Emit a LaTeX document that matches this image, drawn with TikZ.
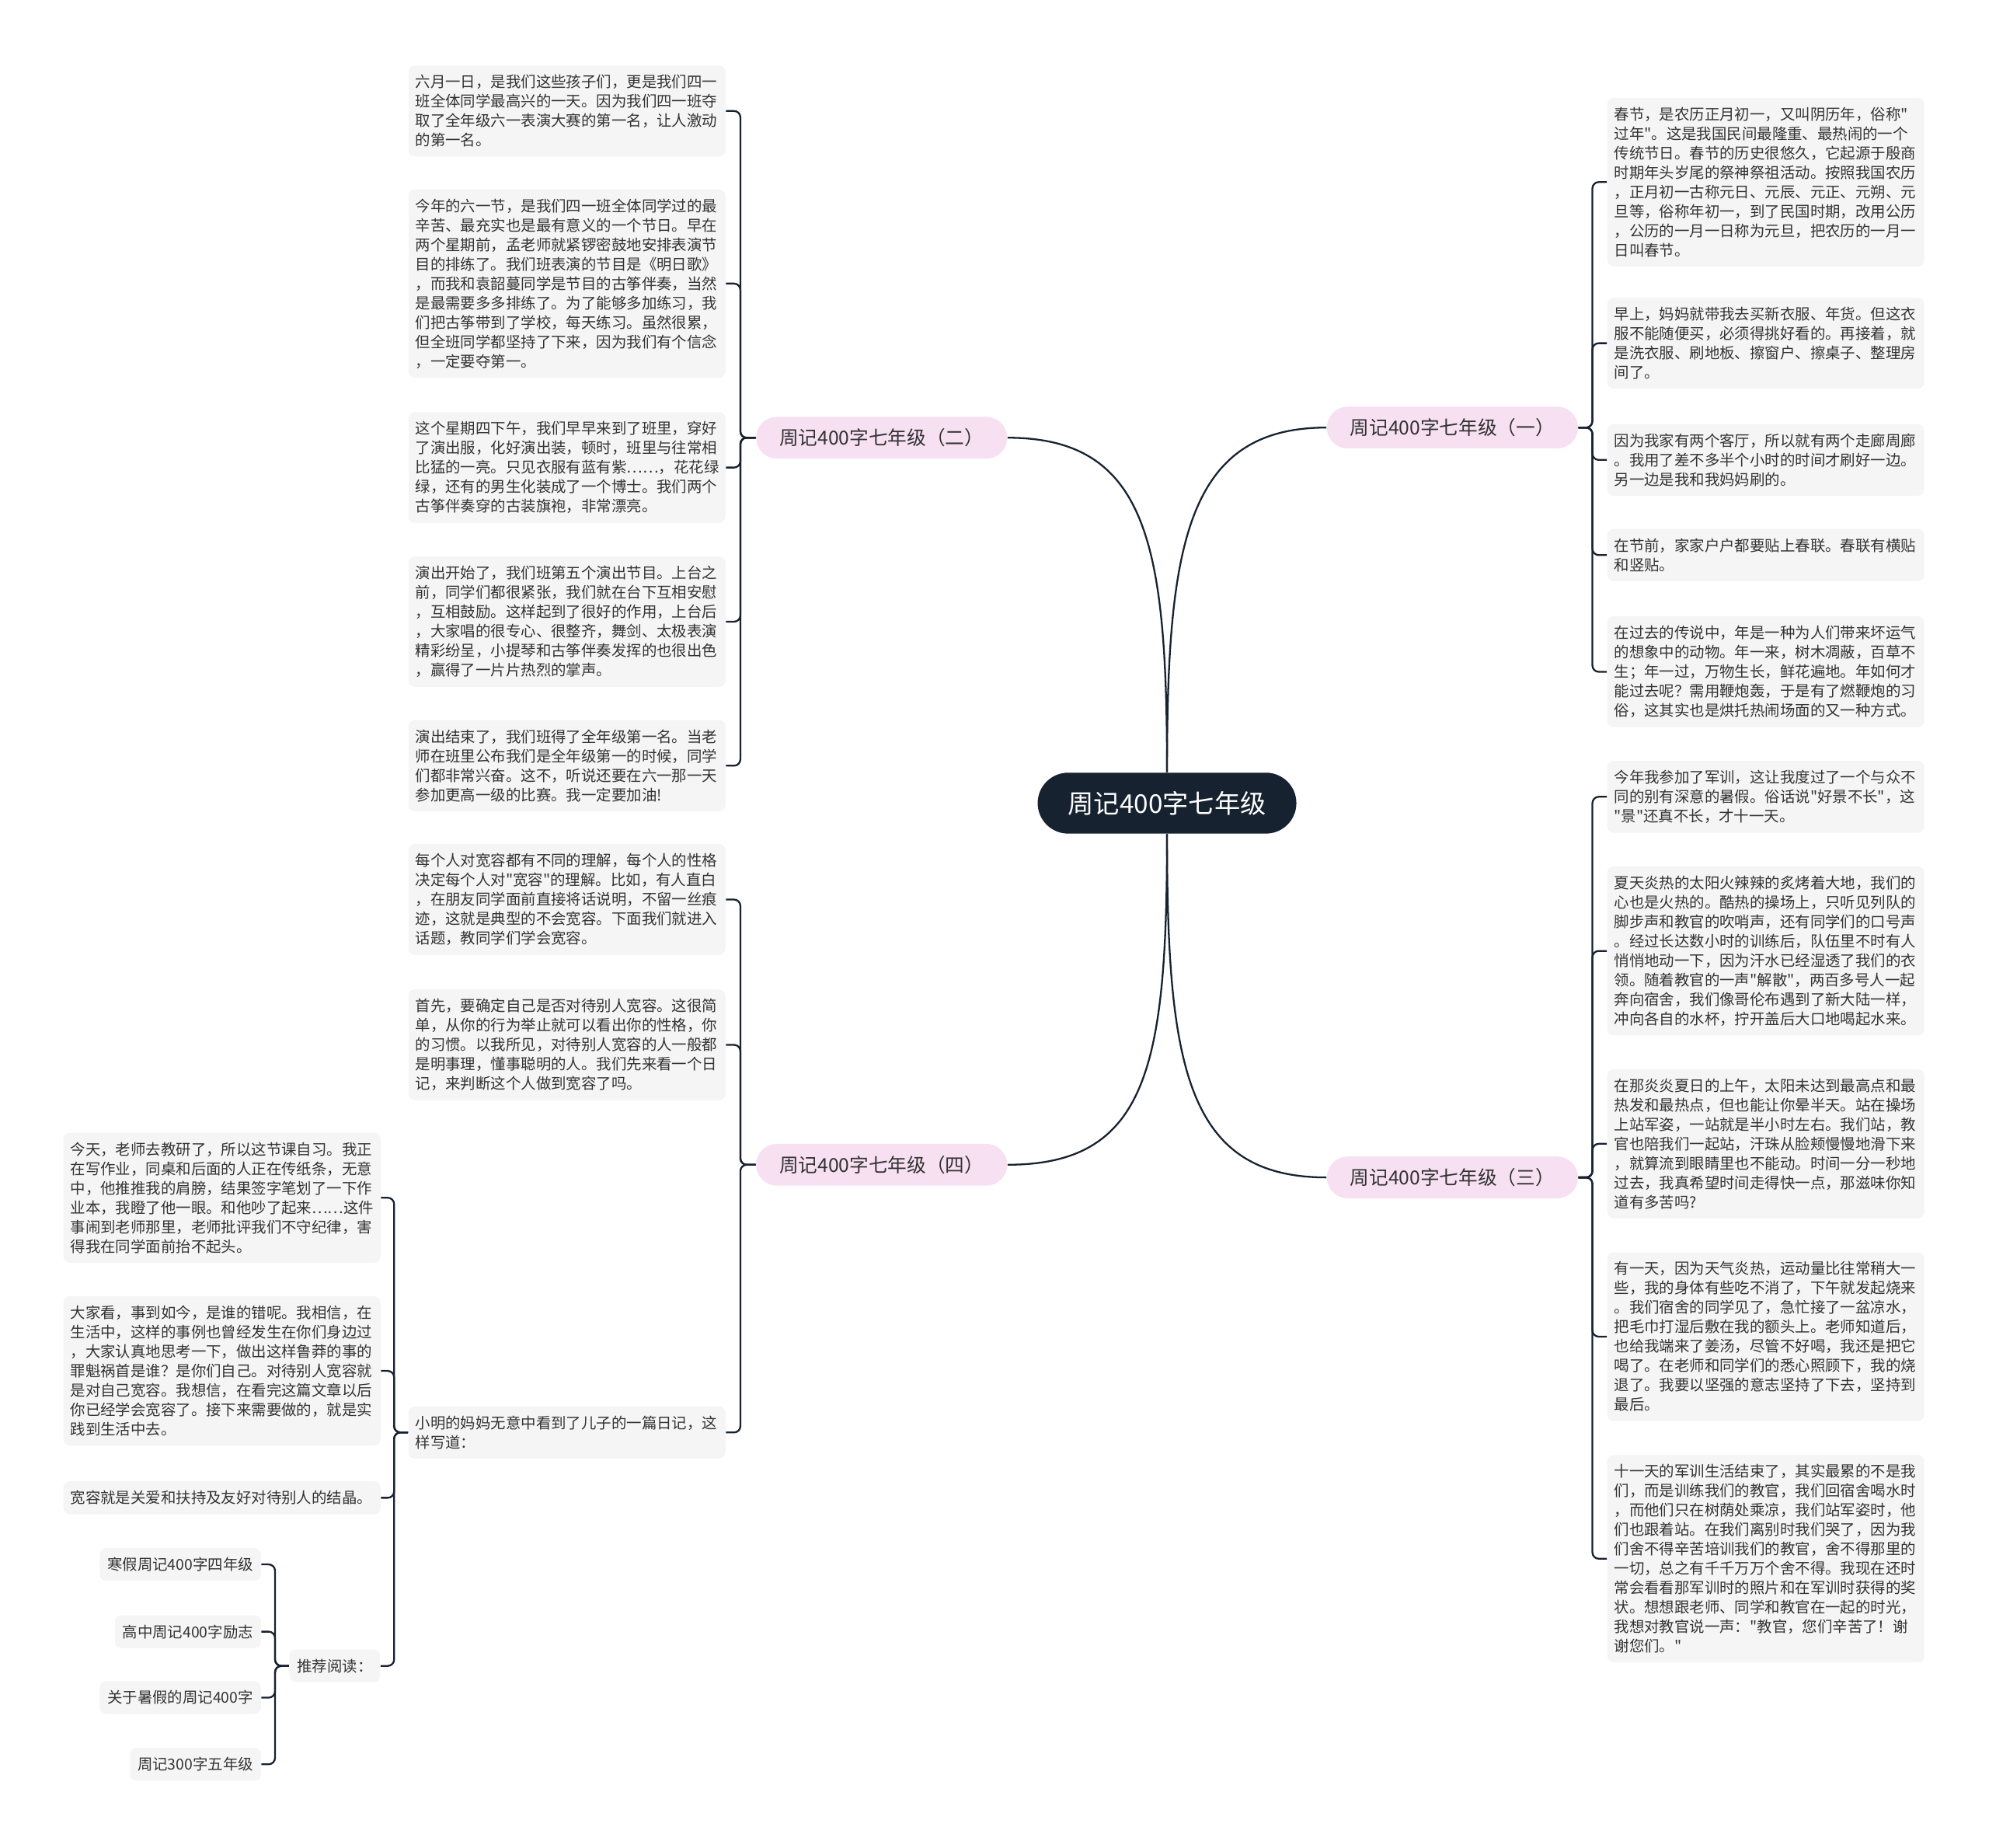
\documentclass[tikz,border=0pt]{standalone}
\usepackage{fontspec}
\setmainfont{Noto Sans CJK SC}[Ligatures=TeXOff]
\usepackage{xcolor}
\definecolor{rootfill}{RGB}{23,34,48}
\definecolor{branchfill}{RGB}{246,224,241}
\definecolor{leaffill}{RGB}{245,245,245}
\definecolor{inkline}{RGB}{23,34,48}
\tikzset{every node/.append style={text=black!80}}

\begin{document}
\begin{tikzpicture}[x=0.02cm, y=-0.02cm,
  leaf/.style={fill=leaffill, rounded corners=0.1cm, align=left, text width=4.78cm,
    inner xsep=0.11cm, inner ysep=4.2pt, font=\fontsize{6.77pt}{8.71pt}\selectfont},
  tip/.style={fill=leaffill, rounded corners=0.1cm, inner xsep=0.12cm, inner ysep=4.2pt,
    font=\fontsize{6.77pt}{8.71pt}\selectfont},
  branch/.style={fill=branchfill, rounded corners=0.33cm, minimum width=3.96cm,
    minimum height=0.66cm, inner sep=0pt, font=\fontsize{8.6pt}{10pt}\selectfont},
  conn/.style={draw=inkline, line width=0.8pt, rounded corners=0.1cm}]
  \useasboundingbox (0,0) rectangle (1568,1456);

  % centre and the four branches
  \node[fill=rootfill, rounded corners=0.48cm, minimum width=4.08cm, minimum height=0.96cm,
    text=white, font=\fontsize{11.6pt}{13pt}\selectfont] (root) at (920,633) {周记400字七年级};
  \node[branch] (b1) at (1145,337) {周记400字七年级（一）};
  \node[branch] (b2) at (695,345) {周记400字七年级（二）};
  \node[branch] (b3) at (1145,928) {周记400字七年级（三）};
  \node[branch] (b4) at (695,918) {周记400字七年级（四）};

  \draw[inkline, line width=0.8pt] (root.north) .. controls (920,430) and (935,337) .. (b1.west);
  \draw[inkline, line width=0.8pt] (root.north) .. controls (920,430) and (905,345) .. (b2.east);
  \draw[inkline, line width=0.8pt] (root.south) .. controls (920,840) and (935,928) .. (b3.west);
  \draw[inkline, line width=0.8pt] (root.south) .. controls (920,840) and (905,918) .. (b4.east);

  % (一)
  \node[leaf] (r1a) at (1392,143.5) {春节，是农历正月初一，又叫阴历年，俗称"\\过年"。这是我国民间最隆重、最热闹的一个\\传统节日。春节的历史很悠久，它起源于殷商\\时期年头岁尾的祭神祭祖活动。按照我国农历\\，正月初一古称元日、元辰、元正、元朔、元\\旦等，俗称年初一，到了民国时期，改用公历\\，公历的一月一日称为元旦，把农历的一月一\\日叫春节。};
  \node[leaf] (r1b) at (1392,270.5) {早上，妈妈就带我去买新衣服、年货。但这衣\\服不能随便买，必须得挑好看的。再接着，就\\是洗衣服、刷地板、擦窗户、擦桌子、整理房\\间了。};
  \node[leaf] (r1c) at (1392,362.5) {因为我家有两个客厅，所以就有两个走廊周廊\\。我用了差不多半个小时的时间才刷好一边。\\另一边是我和我妈妈刷的。};
  \node[leaf] (r1d) at (1392,437.5) {在节前，家家户户都要贴上春联。春联有横贴\\和竖贴。};
  \node[leaf] (r1e) at (1392,529.5) {在过去的传说中，年是一种为人们带来坏运气\\的想象中的动物。年一来，树木凋蔽，百草不\\生；年一过，万物生长，鲜花遍地。年如何才\\能过去呢？需用鞭炮轰，于是有了燃鞭炮的习\\俗，这其实也是烘托热闹场面的又一种方式。};

  % (三)
  \node[leaf] (r3a) at (1392,628) {今年我参加了军训，这让我度过了一个与众不\\同的别有深意的暑假。俗话说"好景不长"，这\\"景"还真不长，才十一天。};
  \node[leaf] (r3b) at (1392,749.5) {夏天炎热的太阳火辣辣的炙烤着大地，我们的\\心也是火热的。酷热的操场上，只听见列队的\\脚步声和教官的吹哨声，还有同学们的口号声\\。经过长达数小时的训练后，队伍里不时有人\\悄悄地动一下，因为汗水已经湿透了我们的衣\\领。随着教官的一声"解散"，两百多号人一起\\奔向宿舍，我们像哥伦布遇到了新大陆一样，\\冲向各自的水杯，拧开盖后大口地喝起水来。};
  \node[leaf] (r3c) at (1392,901.5) {在那炎炎夏日的上午，太阳未达到最高点和最\\热发和最热点，但也能让你晕半天。站在操场\\上站军姿，一站就是半小时左右。我们站，教\\官也陪我们一起站，汗珠从脸颊慢慢地滑下来\\，就算流到眼睛里也不能动。时间一分一秒地\\过去，我真希望时间走得快一点，那滋味你知\\道有多苦吗?};
  \node[leaf] (r3d) at (1392,1053.5) {有一天，因为天气炎热，运动量比往常稍大一\\些，我的身体有些吃不消了，下午就发起烧来\\。我们宿舍的同学见了，急忙接了一盆凉水，\\把毛巾打湿后敷在我的额头上。老师知道后，\\也给我端来了姜汤，尽管不好喝，我还是把它\\喝了。在老师和同学们的悉心照顾下，我的烧\\退了。我要以坚强的意志坚持了下去，坚持到\\最后。};
  \node[leaf] (r3e) at (1392,1228.5) {十一天的军训生活结束了，其实最累的不是我\\们，而是训练我们的教官，我们回宿舍喝水时\\，而他们只在树荫处乘凉，我们站军姿时，他\\们也跟着站。在我们离别时我们哭了，因为我\\们舍不得辛苦培训我们的教官，舍不得那里的\\一切，总之有千千万万个舍不得。我现在还时\\常会看看那军训时的照片和在军训时获得的奖\\状。想想跟老师、同学和教官在一起的时光，\\我想对教官说一声："教官，您们辛苦了！谢\\谢您们。"};

  % (二)
  \node[leaf] (l2a) at (447,87.5) {六月一日，是我们这些孩子们，更是我们四一\\班全体同学最高兴的一天。因为我们四一班夺\\取了全年级六一表演大赛的第一名，让人激动\\的第一名。};
  \node[leaf] (l2b) at (447,223.5) {今年的六一节，是我们四一班全体同学过的最\\辛苦、最充实也是最有意义的一个节日。早在\\两个星期前，孟老师就紧锣密鼓地安排表演节\\目的排练了。我们班表演的节目是《明日歌》\\，而我和袁韶蔓同学是节目的古筝伴奏，当然\\是最需要多多排练了。为了能够多加练习，我\\们把古筝带到了学校，每天练习。虽然很累，\\但全班同学都坚持了下来，因为我们有个信念\\，一定要夺第一。};
  \node[leaf] (l2c) at (447,368.5) {这个星期四下午，我们早早来到了班里，穿好\\了演出服，化好演出装，顿时，班里与往常相\\比猛的一亮。只见衣服有蓝有紫……，花花绿\\绿，还有的男生化装成了一个博士。我们两个\\古筝伴奏穿的古装旗袍，非常漂亮。};
  \node[leaf] (l2d) at (447,490) {演出开始了，我们班第五个演出节目。上台之\\前，同学们都很紧张，我们就在台下互相安慰\\，互相鼓励。这样起到了很好的作用，上台后\\，大家唱的很专心、很整齐，舞剑、太极表演\\精彩纷呈，小提琴和古筝伴奏发挥的也很出色\\，赢得了一片片热烈的掌声。};
  \node[leaf] (l2e) at (447,603.5) {演出结束了，我们班得了全年级第一名。当老\\师在班里公布我们是全年级第一的时候，同学\\们都非常兴奋。这不，听说还要在六一那一天\\参加更高一级的比赛。我一定要加油!};

  % (四)
  \node[leaf] (l4a) at (447,709) {每个人对宽容都有不同的理解，每个人的性格\\决定每个人对"宽容"的理解。比如，有人直白\\，在朋友同学面前直接将话说明，不留一丝痕\\迹，这就是典型的不会宽容。下面我们就进入\\话题，教同学们学会宽容。};
  \node[leaf] (l4b) at (447,823.5) {首先，要确定自己是否对待别人宽容。这很简\\单，从你的行为举止就可以看出你的性格，你\\的习惯。以我所见，对待别人宽容的人一般都\\是明事理，懂事聪明的人。我们先来看一个日\\记，来判断这个人做到宽容了吗。};
  \node[leaf] (l4c) at (447,1129) {小明的妈妈无意中看到了儿子的一篇日记，这\\样写道：};

  \node[leaf] (s1) at (175,944) {今天，老师去教研了，所以这节课自习。我正\\在写作业，同桌和后面的人正在传纸条，无意\\中，他推推我的肩膀，结果签字笔划了一下作\\业本，我瞪了他一眼。和他吵了起来……这件\\事闹到老师那里，老师批评我们不守纪律，害\\得我在同学面前抬不起头。};
  \node[leaf] (s2) at (175,1080.5) {大家看，事到如今，是谁的错呢。我相信，在\\生活中，这样的事例也曾经发生在你们身边过\\，大家认真地思考一下，做出这样鲁莽的事的\\罪魁祸首是谁？是你们自己。对待别人宽容就\\是对自己宽容。我想信，在看完这篇文章以后\\你已经学会宽容了。接下来需要做的，就是实\\践到生活中去。};
  \node[leaf] (s3) at (175,1180.5) {宽容就是关爱和扶持及友好对待别人的结晶。};
  \node[tip, anchor=east] (tj) at (300,1313) {推荐阅读：};

  \node[tip, anchor=east] (t1) at (206,1233) {寒假周记400字四年级};
  \node[tip, anchor=east] (t2) at (206,1286) {高中周记400字励志};
  \node[tip, anchor=east] (t3) at (206,1338) {关于暑假的周记400字};
  \node[tip, anchor=east] (t4) at (206,1390.5) {周记300字五年级};

  % brackets
  \foreach \n in {r1a,r1b,r1c,r1d,r1e}
    \draw[conn] (b1.east) -- ++(11,0) |- (\n.west);
  \foreach \n in {r3a,r3b,r3c,r3d,r3e}
    \draw[conn] (b3.east) -- ++(11,0) |- (\n.west);
  \foreach \n in {l2a,l2b,l2c,l2d,l2e}
    \draw[conn] (b2.west) -- ++(-12,0) |- (\n.east);
  \foreach \n in {l4a,l4b,l4c}
    \draw[conn] (b4.west) -- ++(-12,0) |- (\n.east);
  \foreach \n in {s1,s2,s3,tj}
    \draw[conn] (l4c.west) -- ++(-11,0) |- (\n.east);
  \foreach \n in {t1,t2,t3,t4}
    \draw[conn] (tj.west) -- ++(-11,0) |- (\n.east);
\end{tikzpicture}
\end{document}
